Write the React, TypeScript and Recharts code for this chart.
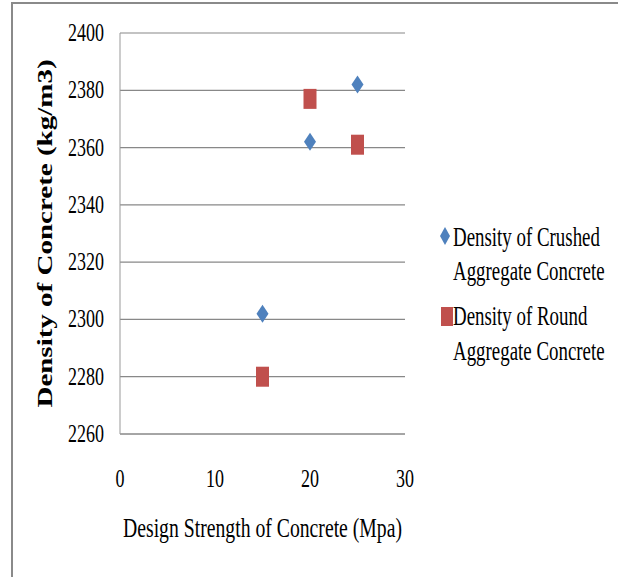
import React from "react";
import { ScatterChart, Scatter, XAxis, YAxis, CartesianGrid, Legend } from "recharts";

const strengths = [15, 20, 25];
const crushedDensity = [2302, 2362, 2382];
const roundDensity = [2280, 2377, 2361];
const yTicks = [2260, 2280, 2300, 2320, 2340, 2360, 2380, 2400];
const xTicks = [0, 10, 20, 30];
const seriesNames = ["Density of Crushed Aggregate Concrete", "Density of Round Aggregate Concrete"];
const legendLines = [
  ["Density of Crushed", "Aggregate Concrete"],
  ["Density of Round", "Aggregate Concrete"],
];
const xTitle = "Design Strength of Concrete (Mpa)";
const yTitle = "Density of Concrete (kg/m3)";

const BLUE = "#4F81BD";
const RED = "#C0504D";
const FONT = "'Liberation Serif', 'Times New Roman', serif";

const crushedData = strengths.map((x, i) => ({ x, y: crushedDensity[i] }));
const roundData = strengths.map((x, i) => ({ x, y: roundDensity[i] }));

const Diamond = (props: any) => {
  const { cx, cy } = props;
  return (
    <polygon
      points={`${cx},${cy - 9} ${cx + 6},${cy} ${cx},${cy + 9} ${cx - 6},${cy}`}
      fill={BLUE}
    />
  );
};

const Square = (props: any) => {
  const { cx, cy } = props;
  return <rect x={cx - 6.5} y={cy - 10} width={13} height={20} fill={RED} />;
};

const XTick = (props: any) => {
  const { x, y, payload } = props;
  return (
    <g transform={`translate(${x},${y})`}>
      <text transform="scale(0.72,1)" textAnchor="middle" fontFamily={FONT} fontSize={25} fill="#000">
        {payload.value}
      </text>
    </g>
  );
};

const YTick = (props: any) => {
  const { x, y, payload } = props;
  return (
    <g transform={`translate(${x},${y + 8})`}>
      <text transform="scale(0.72,1)" textAnchor="end" fontFamily={FONT} fontSize={25} fill="#000">
        {payload.value}
      </text>
    </g>
  );
};

const XLabel = (props: any) => {
  const { viewBox } = props;
  const cx = viewBox.x + viewBox.width / 2;
  return (
    <g transform={`translate(${cx},537)`}>
      <text transform="scale(0.73,1)" textAnchor="middle" fontFamily={FONT} fontSize={27} fill="#000">
        {xTitle}
      </text>
    </g>
  );
};

const YLabel = (props: any) => {
  const { viewBox } = props;
  const cy = viewBox.y + viewBox.height / 2;
  return (
    <g transform={`translate(52,${cy}) scale(0.75,1) rotate(-90)`}>
      <text textAnchor="middle" fontFamily={FONT} fontSize={29} fontWeight="bold" fill="#000">
        {yTitle}
      </text>
    </g>
  );
};

const renderLegend = () => (
  <svg width={190} height={160} style={{ position: "absolute", left: 0, top: 0, overflow: "visible" }}>
    <polygon points="15,7 20,16 15,25 10,16" fill={BLUE} />
    <g transform="translate(23,26)">
      <text transform="scale(0.7,1)" fontFamily={FONT} fontSize={27} fill="#000">{legendLines[0][0]}</text>
    </g>
    <g transform="translate(23,60)">
      <text transform="scale(0.7,1)" fontFamily={FONT} fontSize={27} fill="#000">{legendLines[0][1]}</text>
    </g>
    <rect x={11} y={87} width={12} height={19} fill={RED} />
    <g transform="translate(23,105)">
      <text transform="scale(0.7,1)" fontFamily={FONT} fontSize={27} fill="#000">{legendLines[1][0]}</text>
    </g>
    <g transform="translate(23,140)">
      <text transform="scale(0.7,1)" fontFamily={FONT} fontSize={27} fill="#000">{legendLines[1][1]}</text>
    </g>
  </svg>
);

export default function App() {
  return (
    <div style={{ position: "absolute", left: 0, top: 0, width: 618, height: 577, background: "#fff" }}>
      <div
        style={{
          position: "absolute",
          left: 11,
          top: 2,
          width: 607,
          height: 575,
          borderLeft: "2px solid #8a8a8a",
          borderTop: "2px solid #8a8a8a",
          boxSizing: "border-box",
        }}
      />
      <div style={{ position: "absolute", left: 0, top: 0 }}>
        <ScatterChart width={618} height={577} margin={{ top: 33, right: 213, left: 0, bottom: 0 }}>
          <CartesianGrid vertical={false} stroke="#888" strokeWidth={1.2} />
          <XAxis
            type="number"
            dataKey="x"
            domain={[0, 30]}
            ticks={xTicks}
            height={143}
            tickLine={false}
            tickSize={0}
            tickMargin={53}
            axisLine={{ stroke: "#888" }}
            tick={<XTick />}
            label={<XLabel />}
          />
          <YAxis
            type="number"
            dataKey="y"
            domain={[2260, 2400]}
            ticks={yTicks}
            width={120}
            tickLine={false}
            tickSize={0}
            tickMargin={16}
            axisLine={{ stroke: "#999" }}
            tick={<YTick />}
            label={<YLabel />}
          />
          <Legend
            content={renderLegend}
            wrapperStyle={{ position: "absolute", left: 430, top: 220, width: 0, height: 0, overflow: "visible" }}
          />
          <Scatter name={seriesNames[0]} data={crushedData} fill={BLUE} shape={<Diamond />} isAnimationActive={false} />
          <Scatter name={seriesNames[1]} data={roundData} fill={RED} shape={<Square />} isAnimationActive={false} />
        </ScatterChart>
      </div>
    </div>
  );
}
